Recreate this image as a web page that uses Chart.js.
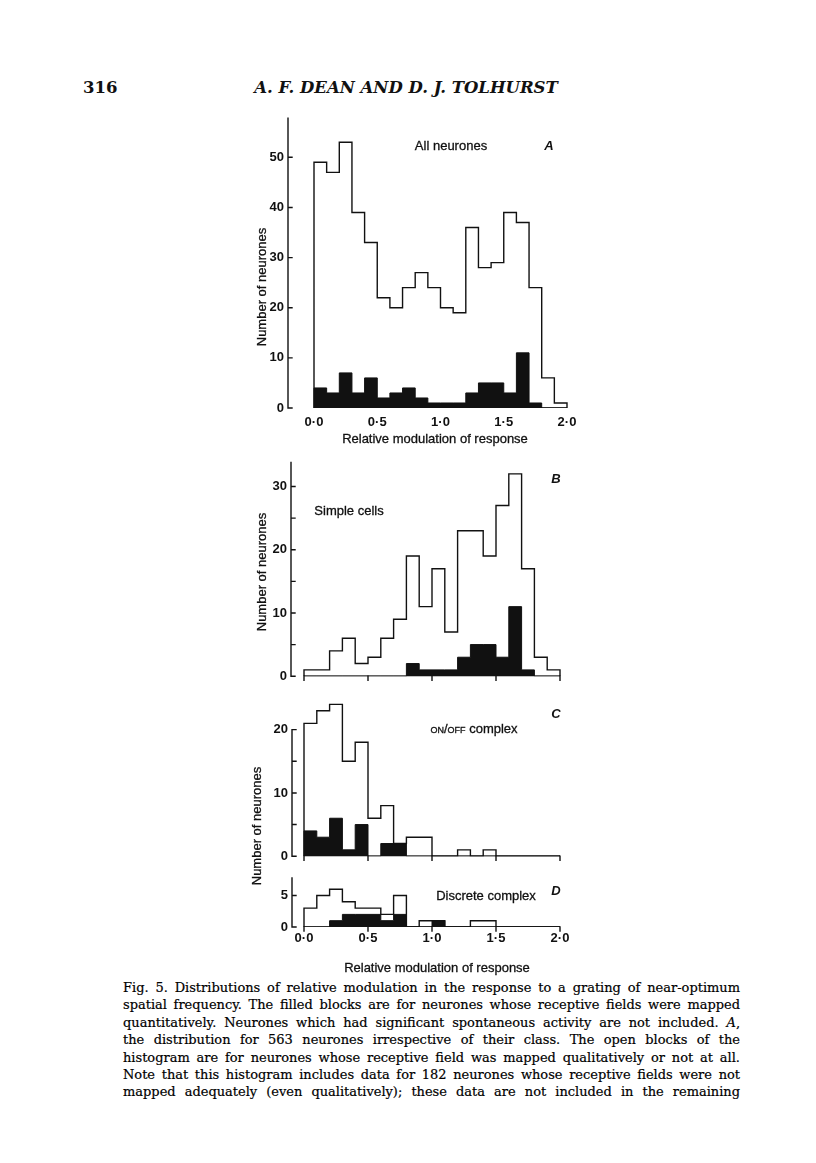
<!DOCTYPE html>
<html>
<head>
<meta charset="utf-8">
<script src="https://cdn.jsdelivr.net/npm/chart.js@4.4.1/dist/chart.umd.min.js"></script>
<style>
html,body{margin:0;padding:0;background:#fff;}
body{width:816px;height:1163px;position:relative;overflow:hidden;}
canvas{position:absolute;}
.t{position:absolute;white-space:nowrap;color:#111;font-family:"Liberation Sans",Arial,sans-serif;font-size:13px;line-height:1;-webkit-text-stroke:0.3px #111;}
.c{transform:translate(-50%,-50%);}
.v{transform:translate(-50%,-50%) rotate(-90deg);}
.it{font-style:italic;font-weight:bold;-webkit-text-stroke:0;}
.sc{font-variant:small-caps;}
.hdr{position:absolute;white-space:nowrap;color:#111;font-family:"DejaVu Serif",serif;font-size:16.5px;line-height:1;font-weight:bold;}
#caption{position:absolute;left:123px;top:979px;width:617px;font-family:"DejaVu Serif",serif;font-size:13.1px;line-height:17.4px;color:#000;-webkit-text-stroke:0.2px #000;}
#caption div{text-align:justify;text-align-last:justify;white-space:nowrap;}
</style>
</head>
<body>
<div class="hdr" style="left:83px;top:80px;">316</div>
<div class="hdr c" style="left:406px;top:88px;font-style:italic;">A. F. DEAN AND D. J. TOLHURST</div>

<canvas id="cA"></canvas>
<canvas id="cB"></canvas>
<canvas id="cC"></canvas>
<canvas id="cD"></canvas>

<div class="t c" style="left:451px;top:145px;">All neurones</div>
<div class="t c it" style="left:549px;top:145px;">A</div>
<div class="t c" style="left:349px;top:510px;">Simple cells</div>
<div class="t c it" style="left:556px;top:478px;">B</div>
<div class="t c" style="left:474px;top:728px;"><span class="sc">on/off</span> complex</div>
<div class="t c it" style="left:556px;top:713px;">C</div>
<div class="t c" style="left:486px;top:895px;">Discrete complex</div>
<div class="t c it" style="left:556px;top:890px;">D</div>

<div class="t v" style="left:261px;top:287px;">Number of neurones</div>
<div class="t v" style="left:261px;top:572px;">Number of neurones</div>
<div class="t v" style="left:256px;top:826px;">Number of neurones</div>
<div class="t c" style="left:435px;top:438px;">Relative modulation of response</div>
<div class="t c" style="left:437px;top:967px;">Relative modulation of response</div>

<div id="caption">
<div><span>Fig. 5. Distributions of relative modulation in the response to a grating of near-optimum</span></div>
<div><span>spatial frequency. The filled blocks are for neurones whose receptive fields were mapped</span></div>
<div><span>quantitatively. Neurones which had significant spontaneous activity are not included. <i>A</i>,</span></div>
<div><span>the distribution for 563 neurones irrespective of their class. The open blocks of the</span></div>
<div><span>histogram are for neurones whose receptive field was mapped qualitatively or not at all.</span></div>
<div><span>Note that this histogram includes data for 182 neurones whose receptive fields were not</span></div>
<div><span>mapped adequately (even qualitatively); these data are not included in the remaining</span></div>
</div>

<script>
// ---- data ----
const bins = [0.0,0.1,0.2,0.3,0.4,0.5,0.6,0.7,0.8,0.9,1.0,1.1,1.2,1.3,1.4,1.5,1.6,1.7,1.8,1.9]; // lower bin edges
const binWidth = 0.1;
const openA   = [49,47,53,39,33,22,20,24,27,24,20,19,36,28,29,39,37,24,6,1];
const filledA = [4,3,7,3,6,2,3,4,2,1,1,1,3,5,5,3,11,1,0,0];
const openB   = [1,1,4,6,2,3,6,9,19,11,17,7,23,23,19,27,32,17,3,1];
const filledB = [0,0,0,0,0,0,0,0,2,1,1,1,3,5,5,3,11,1,0,0];
const openC   = [21,23,24,15,18,6,8,2,3,3,0,0,1,0,1,0,0,0,0,0];
const filledC = [4,3,6,1,5,0,2,2,0,0,0,0,0,0,0,0,0,0,0,0];
const openD   = [3,5,6,4,3,3,2,5,0,1,1,0,0,1,1,0,0,0,0,0];
const filledD = [0,0,1,2,2,2,1,2,0,0,1,0,0,0,0,0,0,0,0,0];

const xTickValues = [0.0,0.5,1.0,1.5,2.0];
const xTickLabels = ['0·0','0·5','1·0','1·5','2·0'];
const yMajorA = [0,10,20,30,40,50];  const yLabelsA = ['0','10','20','30','40','50'];  const yMinorA = [];
const yMajorB = [0,10,20,30];        const yLabelsB = ['0','10','20','30'];            const yMinorB = [5,15,25];
const yMajorC = [0,10,20];           const yLabelsC = ['0','10','20'];                 const yMinorC = [5,15];
const yMajorD = [0,5];               const yLabelsD = ['0','5'];                       const yMinorD = [];

// ---- caption fit guard: shrink a line only if it would overflow ----
document.querySelectorAll('#caption div').forEach(d => {
  const s = d.firstElementChild, W = d.clientWidth;
  const nat = s.getBoundingClientRect().width;
  const fs = parseFloat(getComputedStyle(d).fontSize);
  if (nat > W - 4) d.style.fontSize = (fs * (W - 6) / nat) + 'px';
});

// ---- drawing ----
const INK = '#111';
Chart.defaults.font.family = '"Liberation Sans", Arial, sans-serif';
Chart.defaults.color = INK;

const framePlugin = {
  id: 'frame',
  afterDatasetsDraw(chart, args, opts) {
    const {ctx, chartArea} = chart;
    const ys = chart.scales.y, xs = chart.scales.x;
    const ax = chartArea.left;
    const yb = ys.getPixelForValue(0);
    ctx.save();
    ctx.strokeStyle = INK; ctx.lineWidth = 1.4; ctx.lineCap = 'square';
    ctx.beginPath();
    ctx.moveTo(ax, yb); ctx.lineTo(ax, ys.getPixelForValue(opts.axisTop));
    for (const v of opts.yTicks) { const p = ys.getPixelForValue(v); ctx.moveTo(ax, p); ctx.lineTo(ax + opts.tickLen, p); }
    for (const v of opts.xTicks) { const p = xs.getPixelForValue(v); ctx.moveTo(p, yb); ctx.lineTo(p, yb + opts.tickLen); }
    ctx.stroke();
    ctx.restore();
  }
};

function stepPoints(vals) {
  const pts = [{x: bins[0], y: 0}];
  bins.forEach((b, i) => pts.push({x: b, y: vals[i]}));
  pts.push({x: bins[bins.length - 1] + binWidth, y: 0});
  return pts;
}

const Y_W = 40, PAD_T = 12, PAD_R = 14;

function makeChart(id, c) {
  const w = c.right - c.left, h = c.bottom - c.top;
  const xPer = (c.x2px - c.x0px) / 2;
  const xMin = (c.left - c.x0px) / xPer, xMax = (c.right - c.x0px) / xPer;
  const yMax = (c.y0px - c.top) / c.yPer;
  const cv = document.getElementById(id);
  const W = Y_W + w + PAD_R, H = PAD_T + h + c.xH;
  cv.width = W; cv.height = H;
  cv.style.left = (c.left - Y_W) + 'px'; cv.style.top = (c.top - PAD_T) + 'px';
  cv.style.width = W + 'px'; cv.style.height = H + 'px';
  const lastEdge = bins[bins.length - 1] + binWidth;
  new Chart(cv, {
    type: 'line',
    data: {
      datasets: [
        {data: stepPoints(c.filled), stepped: true, fill: 'origin', backgroundColor: INK, borderColor: INK, borderWidth: 1, pointRadius: 0},
        {data: stepPoints(c.open), stepped: true, fill: false, borderColor: INK, borderWidth: 1.4, pointRadius: 0},
        {data: [{x: bins[0], y: 0}, {x: lastEdge, y: 0}], fill: false, borderColor: INK, borderWidth: 1.4, pointRadius: 0}
      ]
    },
    options: {
      responsive: false, animation: false, devicePixelRatio: 1,
      layout: {padding: {top: PAD_T, right: PAD_R, left: 0, bottom: 0}},
      plugins: {legend: {display: false}, tooltip: {enabled: false},
        frame: {axisTop: c.axisTop, yTicks: c.yMajor.concat(c.yMinor), xTicks: c.xTicks, tickLen: 4}},
      scales: {
        x: {type: 'linear', min: xMin, max: xMax,
          afterBuildTicks: s => { s.ticks = xTickValues.map(v => ({value: v})); },
          ticks: {display: c.xLabels, autoSkip: false, maxRotation: 0, padding: c.xPad,
            callback: (v, i) => xTickLabels[i], font: {size: 13, weight: 'bold'}, color: INK},
          grid: {display: false, drawTicks: false}, border: {display: false},
          afterFit: s => { s.height = c.xH; }},
        y: {type: 'linear', min: 0, max: yMax,
          afterBuildTicks: s => { s.ticks = c.yMajor.map(v => ({value: v})); },
          ticks: {autoSkip: false, padding: 4, callback: (v, i) => c.yLabels[i], font: {size: 13, weight: 'bold'}, color: INK},
          grid: {display: false, drawTicks: false}, border: {display: false},
          afterFit: s => { s.width = Y_W; }}
      }
    },
    plugins: [framePlugin]
  });
}

makeChart('cA', {left: 288, right: 578, top: 117, bottom: 408, x0px: 314, x2px: 567, y0px: 408, yPer: 5.014,
  open: openA, filled: filledA, yMajor: yMajorA, yLabels: yLabelsA, yMinor: yMinorA, axisTop: 57.8,
  xTicks: [], xLabels: true, xH: 26, xPad: 7});
makeChart('cB', {left: 291, right: 572, top: 462, bottom: 678, x0px: 304, x2px: 560, y0px: 678, yPer: 6.377,
  open: openB, filled: filledB, yMajor: yMajorB, yLabels: yLabelsB, yMinor: yMinorB, axisTop: 33.8,
  xTicks: xTickValues, xLabels: false, xH: 10, xPad: 0});
makeChart('cC', {left: 292, right: 572, top: 700, bottom: 858, x0px: 304, x2px: 560, y0px: 858, yPer: 6.4,
  open: openC, filled: filledC, yMajor: yMajorC, yLabels: yLabelsC, yMinor: yMinorC, axisTop: 20,
  xTicks: xTickValues, xLabels: false, xH: 10, xPad: 0});
makeChart('cD', {left: 292, right: 572, top: 876, bottom: 927, x0px: 304, x2px: 560, y0px: 927, yPer: 6.3,
  open: openD, filled: filledD, yMajor: yMajorD, yLabels: yLabelsD, yMinor: yMinorD, axisTop: 7.8,
  xTicks: xTickValues, xLabels: true, xH: 24, xPad: 4});
</script>
</body>
</html>
